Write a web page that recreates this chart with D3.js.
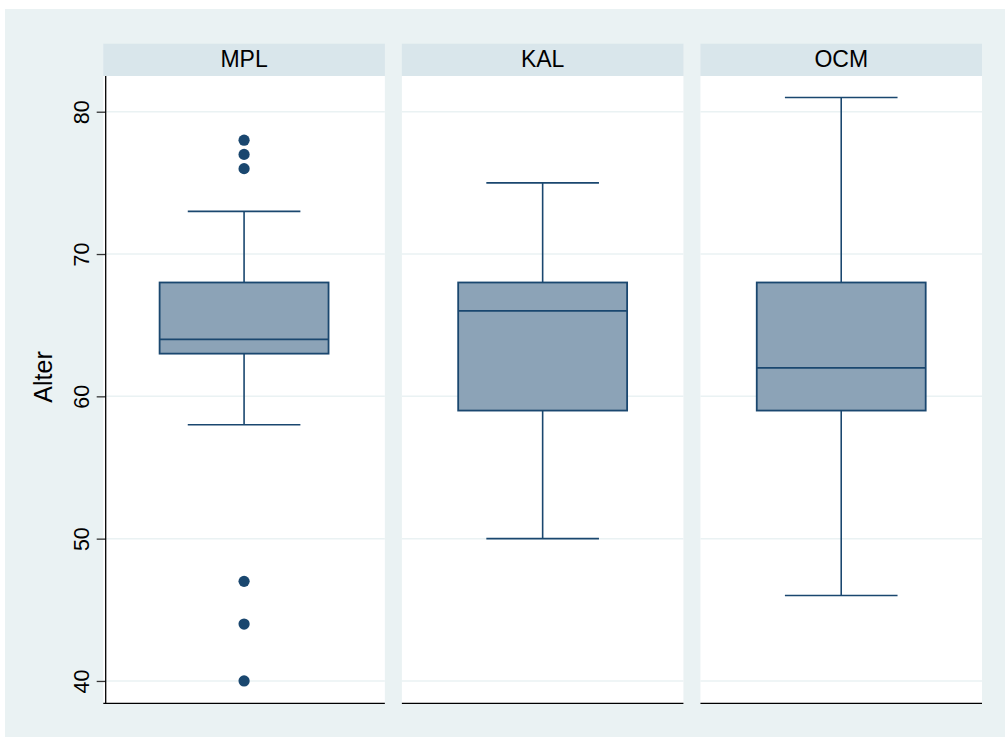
<!DOCTYPE html>
<html>
<head>
<meta charset="utf-8">
<script src="https://cdn.jsdelivr.net/npm/d3@7"></script>
<style>
  html, body { margin: 0; padding: 0; background: #ffffff; }
  svg { display: block; }
  text { font-family: "Liberation Sans", Arial, sans-serif; fill: #000; }
</style>
</head>
<body>
<svg id="chart" width="1005" height="738"></svg>
<script>
// ---- data ----
const groups = ["MPL", "KAL", "OCM"];
const whiskerLow = [58, 50, 46];
const q1 = [63, 59, 59];
const median = [64, 66, 62];
const q3 = [68, 68, 68];
const whiskerHigh = [73, 75, 81];
const outliers = [[78, 77, 76, 47, 44, 40], [], []];
const yTicks = [40, 50, 60, 70, 80];
const yTitle = "Alter";

// ---- layout ----
const W = 1005, H = 738;
const svg = d3.select("#chart");
const plotTop = 76, plotBottom = 703.3;
const stripTop = 43.7;

svg.append("rect").attr("x", 5).attr("y", 9).attr("width", W - 5).attr("height", 728)
  .attr("fill", "#EAF2F3");

const xPanel = d3.scaleBand().domain(groups).range([103.3, 982]).paddingInner(0.057).paddingOuter(0);
const y = d3.scaleLinear().domain([38.43, 82.51]).range([plotBottom, plotTop]);

const navy = "#1A476F";
const fill = "#8CA3B7";

groups.forEach((g, i) => {
  const x0 = xPanel(g), bw = xPanel.bandwidth();
  const xs = d3.scaleLinear().domain([0, 1]).range([x0, x0 + bw]);
  const p = svg.append("g");
  // strip
  p.append("rect").attr("x", x0).attr("y", stripTop).attr("width", bw).attr("height", plotTop - stripTop)
    .attr("fill", "#D9E6EB");
  p.append("text").attr("x", xs(0.5)).attr("y", 66.5).attr("text-anchor", "middle")
    .style("font-size", "23px").text(g);
  // plot area
  p.append("rect").attr("x", x0).attr("y", plotTop).attr("width", bw).attr("height", plotBottom - plotTop)
    .attr("fill", "#ffffff");
  // grid
  p.selectAll(".grid").data(yTicks).enter().append("line")
    .attr("x1", x0).attr("x2", x0 + bw)
    .attr("y1", d => y(d)).attr("y2", d => y(d))
    .attr("stroke", "#EAF2F3").attr("stroke-width", 1.5);
  // whiskers
  p.append("line").attr("x1", xs(0.5)).attr("x2", xs(0.5))
    .attr("y1", y(whiskerHigh[i])).attr("y2", y(q3[i])).attr("stroke", navy).attr("stroke-width", 1.6);
  p.append("line").attr("x1", xs(0.5)).attr("x2", xs(0.5))
    .attr("y1", y(q1[i])).attr("y2", y(whiskerLow[i])).attr("stroke", navy).attr("stroke-width", 1.6);
  [whiskerHigh[i], whiskerLow[i]].forEach(v => {
    p.append("line").attr("x1", xs(0.3)).attr("x2", xs(0.7))
      .attr("y1", y(v)).attr("y2", y(v)).attr("stroke", navy).attr("stroke-width", 1.6);
  });
  // box
  p.append("rect").attr("x", xs(0.2)).attr("width", xs(0.8) - xs(0.2))
    .attr("y", y(q3[i])).attr("height", y(q1[i]) - y(q3[i]))
    .attr("fill", fill).attr("stroke", navy).attr("stroke-width", 1.8);
  p.append("line").attr("x1", xs(0.2)).attr("x2", xs(0.8))
    .attr("y1", y(median[i])).attr("y2", y(median[i])).attr("stroke", navy).attr("stroke-width", 1.8);
  // outliers
  p.selectAll(".out").data(outliers[i]).enter().append("circle")
    .attr("cx", xs(0.5)).attr("cy", d => y(d)).attr("r", 5.6).attr("fill", navy);
  // bottom axis line
  p.append("line").attr("x1", x0).attr("x2", x0 + bw).attr("y1", plotBottom).attr("y2", plotBottom)
    .attr("stroke", "#000").attr("stroke-width", 1.3);
});

// y axis on first panel
const axisX = xPanel(groups[0]) + 2.4;
const yAxis = d3.axisLeft(y).tickValues(yTicks).tickSize(9).tickPadding(0).tickFormat(d3.format("d"));
const ag = svg.append("g").attr("transform", `translate(${axisX},0)`).call(yAxis);
ag.select(".domain").remove();
ag.append("line").attr("x1", 0).attr("x2", 0).attr("y1", plotTop).attr("y2", plotBottom + 0.6)
  .attr("stroke", "#000").attr("stroke-width", 1.3);
ag.selectAll(".tick line").attr("stroke", "#333").attr("stroke-width", 1.3);
ag.selectAll(".tick text")
  .attr("x", null).attr("dy", null)
  .attr("transform", "translate(-17,0) rotate(-90)")
  .attr("text-anchor", "middle")
  .attr("fill", "#000")
  .style("font-size", "21.5px")
  .style("font-family", '"Liberation Sans", Arial, sans-serif');

svg.append("text")
  .attr("transform", "translate(52,377) rotate(-90)")
  .attr("text-anchor", "middle")
  .style("font-size", "25px")
  .text(yTitle);
</script>
</body>
</html>
